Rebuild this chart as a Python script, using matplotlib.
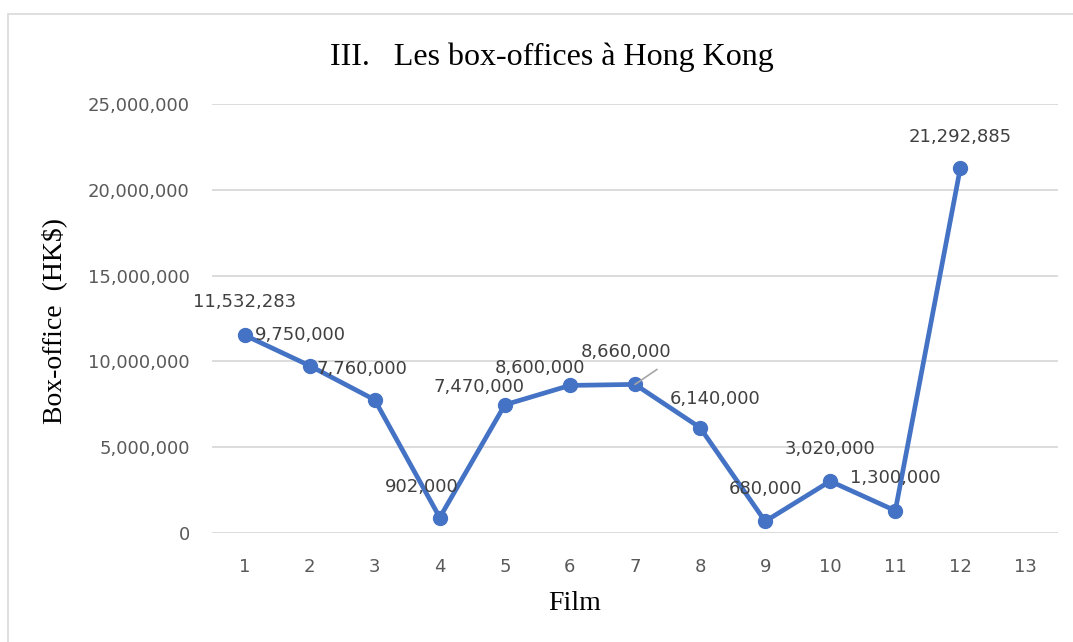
import matplotlib
matplotlib.use("Agg")
import matplotlib.pyplot as plt
from matplotlib.patches import Rectangle
from matplotlib.ticker import FuncFormatter

films = list(range(1, 13))
box_office = [11532283, 9750000, 7760000, 902000, 7470000, 8600000,
              8660000, 6140000, 680000, 3020000, 1300000, 21292885]
x_ticks = list(range(1, 14))
y_ticks = [0, 5000000, 10000000, 15000000, 20000000, 25000000]
title = "III.   Les box-offices à Hong Kong"
x_label = "Film"
y_label = "Box-office  (HK$)"

# label offsets in pixels (dx, dy up)
label_offsets = [(0, 33), (-9, 31), (-13, 31), (-18, 31), (-26, 18), (-30, 17),
                 (-9, 32), (15, 29), (0, 32), (0, 32), (0, 33), (0, 31)]

W, H = 1073, 642
fig = plt.figure(figsize=(W / 100, H / 100), dpi=100)
fig.patch.set_facecolor("white")
fig.add_artist(Rectangle((8 / W, -0.1), 1.2, 1.1 - 14 / H, transform=fig.transFigure,
                         fill=False, edgecolor="#D9D9D9", linewidth=1.2))

ax = fig.add_axes([212 / W, 1 - 533 / H, (1058 - 212) / W, (533 - 104) / H])
ax.set_xlim(0.5, 13.5)
ax.set_ylim(0, 25000000)
ax.set_yticks(y_ticks)
ax.set_xticks(x_ticks)
ax.yaxis.set_major_formatter(FuncFormatter(lambda v, p: f"{int(v):,}"))
ax.grid(axis="y", color="#D9D9D9", linewidth=1.3)
ax.set_axisbelow(True)
for s in ax.spines.values():
    s.set_visible(False)
ax.tick_params(axis="both", length=0, labelsize=13, labelcolor="#595959")
ax.tick_params(axis="y", pad=16)
ax.tick_params(axis="x", pad=18)
for lab in ax.get_xticklabels() + ax.get_yticklabels():
    lab.set_fontfamily("DejaVu Sans")

ax.plot(films, box_office, color="#4472C4", linewidth=3.4, marker="o",
        markersize=10, clip_on=False, zorder=3)

for i, (xv, yv) in enumerate(zip(films, box_office)):
    dx, dy = label_offsets[i]
    ax.annotate(f"{yv:,}", (xv, yv), xytext=(dx * 0.72, dy * 0.72),
                textcoords="offset points", ha="center", va="center",
                fontsize=13, color="#404040", family="DejaVu Sans", zorder=4)

# leader line for film 7
ax.annotate("", (7, box_office[6]), xytext=(22 * 0.72, 15 * 0.72),
            textcoords="offset points",
            arrowprops=dict(arrowstyle="-", color="#A6A6A6", linewidth=1.2,
                            shrinkA=0, shrinkB=0), zorder=4)

fig.text(552 / W, 1 - 57 / H, title, ha="center", va="center",
         fontsize=23, family="Liberation Serif", color="black")
fig.text(575 / W, 1 - 604 / H, x_label, ha="center", va="center",
         fontsize=20, family="Liberation Serif", color="black")
fig.text(54 / W, 1 - 321 / H, y_label, ha="center", va="center", rotation=90,
         fontsize=20, family="Liberation Serif", color="black")

fig.savefig("out.png", dpi=100)
